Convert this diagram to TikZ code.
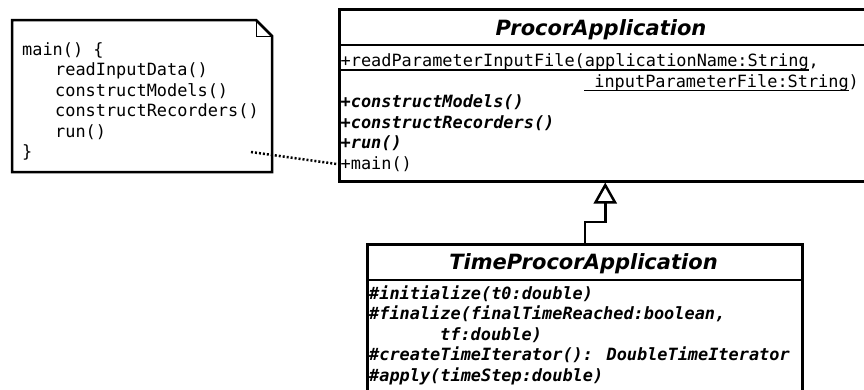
\documentclass[tikz,border=0pt]{standalone}
\usepackage{fontspec}
\setmainfont{DejaVu Sans}
\newfontfamily\umlmono{DejaVu Sans Mono}
\usetikzlibrary{arrows.meta}

% underline set close to the baseline, as in the class diagram
\newcommand\umlunder[1]{\setbox0\hbox{#1}\rlap{\rule[-4pt]{\wd0}{1.2pt}}\box0}

\tikzset{
  umlbox/.style={draw, line width=2.5pt, anchor=north west, inner sep=0pt},
  optext/.style={anchor=base west, inner sep=0pt, font=\umlmono\fontsize{16.9}{20}\selectfont},
  abstractop/.style={optext, font=\umlmono\fontsize{16.9}{20}\selectfont\bfseries\itshape},
  classtitle/.style={anchor=base, inner sep=0pt, font=\fontsize{21}{25}\selectfont\bfseries\itshape}
}

\begin{document}
\begin{tikzpicture}[x=1pt, y=-1pt]
    \useasboundingbox (0,0) rectangle (864,389);

    % Note with folded corner
    \draw[line width=2.5pt] (12,20) -- (256,20) -- (272,36) -- (272,172) -- (12,172) -- cycle;
    \draw[line width=1pt] (256,20) |- (272,36);
    \foreach \txt [count=\i] in {main() \{, \hspace*{33pt}readInputData(), \hspace*{33pt}constructModels(),
        \hspace*{33pt}constructRecorders(), \hspace*{33pt}run(), \}} {
      \node[optext] (note\i) at (22, 34.5+20.5*\i) {\txt};
    }
    \coordinate (noteend) at (251,152);

    % ProcorApplication
    \node[umlbox, minimum width=532pt, minimum height=172pt] (PA) at (338,8) {};
    \draw[line width=2.5pt] ([yshift=-37pt]PA.north west) -- ([yshift=-37pt]PA.north east);
    \node[classtitle] (PAtitle) at (601,35) {ProcorApplication};
    \node[optext] (PAop1) at (340.5,66.5) {\umlunder{+readParameterInputFile(applicationName:String},};
    \node[optext] (PAop2) at (584,87) {\umlunder{\ inputParameterFile:String})};
    \node[abstractop] (PAop3) at (340.5,107.5) {+constructModels()};
    \node[abstractop] (PAop4) at (340.5,128) {+constructRecorders()};
    \node[abstractop] (PAop5) at (340.5,148.5) {+run()};
    \node[optext] (PAop6) at (340.5,169.5) {+main()};

    % TimeProcorApplication
    \node[umlbox, minimum width=435pt, minimum height=170pt] (TPA) at (366,243) {};
    \draw[line width=2.5pt] ([yshift=-37pt]TPA.north west) -- ([yshift=-37pt]TPA.north east);
    \node[classtitle] (TPAtitle) at (583.5,269) {TimeProcorApplication};
    \node[abstractop] (TPAop1) at (369,299) {\#initialize(t0:double)};
    \node[abstractop] (TPAop2) at (369,319.5) {\#finalize(finalTimeReached:boolean,};
    \node[abstractop] (TPAop3) at (440,340) {tf:double)};
    \node[abstractop] (TPAop4) at (369,360.5) {\#createTimeIterator(): DoubleTimeIterator};
    \node[abstractop] (TPAop5) at (369,381) {\#apply(timeStep:double)};

    % connectors
    \draw[line width=2.5pt, dash pattern=on 2pt off 2pt] (noteend) -- (PA.west |- PAop6.west);
    \draw[line width=2.5pt, -{Triangle[open, length=21pt, width=23pt]}] (TPA.north) -- ++(0,-21) -| (PA.south);

\end{tikzpicture}
\end{document}
